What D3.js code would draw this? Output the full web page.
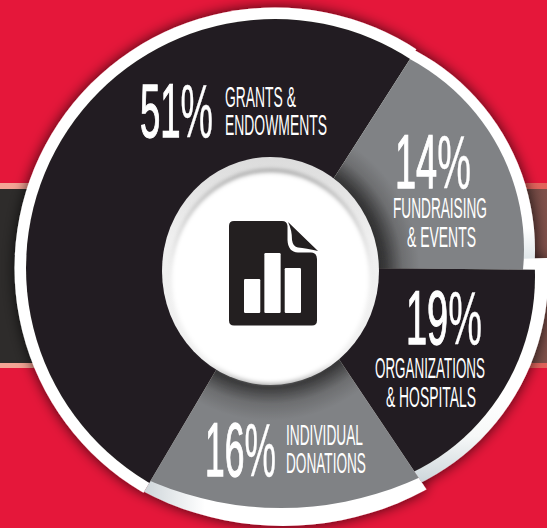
<!DOCTYPE html>
<html><head><meta charset="utf-8">
<script src="https://cdnjs.cloudflare.com/ajax/libs/d3/7.8.5/d3.min.js"></script>
<style>html,body{margin:0;padding:0;background:#e5173a;overflow:hidden}svg{display:block}
text{font-family:"Liberation Sans Narrow","Liberation Sans",sans-serif;fill:#fff}</style>
</head><body><svg id="c" width="547" height="528"></svg>
<script>
// DATA
const categories = ["Grants & Endowments","Fundraising & Events","Organizations & Hospitals","Individual Donations"];
const percentLabels = [51,14,19,16];
// the drawing's wedges are not proportional to its labels: sweep as measured on the picture (degrees)
const measuredSweeps = [182,58,55.5,64.5];
const iconBarValues = [34,60,45];

// STYLE / LAYOUT
const W=547,H=528, apex=[277,267], startDeg=-149.4;
const BLACK="#231f20", GREY="#808285";
const sliceStyle=[
 {fill:BLACK, ring:"url(#r0)", outer:[275,268,260.5], inner:[275,268,249], ringPad:0},
 {fill:"url(#hubShade)", ring:"url(#r1)", outer:[309,250,226], inner:[309,249,215], ringPad:1},
 {fill:BLACK, ring:"url(#r2)", outer:[318,277,230], inner:[318,277,217], ringPad:2.5},
 {fill:"url(#hubShade)", ring:"url(#r3)", outer:[283,226,300], inner:[281,179,329], ringPad:0}
];
const labelStyle=[
 {big:[140,137,73], small:[["GRANTS &",225,107,71],["ENDOWMENTS",225,135,102]]},
 {big:[395,188,76], small:[["FUNDRAISING",393,218,94],["& EVENTS",407,247,69]]},
 {big:[406,344,76], small:[["ORGANIZATIONS",375,378,110],["& HOSPITALS",386,407,90]]},
 {big:[205,476,71], small:[["INDIVIDUAL",286,445,77],["DONATIONS",286,473,80]]}
];

const svg=d3.select("#c");
const defs=svg.append("defs");
function linear(id,attrs,stops){const g=defs.append("linearGradient").attr("id",id).attr("gradientUnits","userSpaceOnUse");
 Object.entries(attrs).forEach(([k,v])=>g.attr(k,v));
 stops.forEach(s=>g.append("stop").attr("offset",s[0]).attr("stop-color",s[1]).attr("stop-opacity",s[2]===undefined?1:s[2]));}
linear("bandFill",{x1:0,y1:0,x2:547,y2:0},[[0,"#2e2c2b"],[.3,"#2e2c2b"],[.85,"#3a2e2c"],[1,"#80504a"]]);
linear("bandLine",{x1:0,y1:0,x2:547,y2:0},[[0,"#f4a596"],[.2,"#f4a08f"],[.8,"#e9786e"],[1,"#e2625a"]]);
linear("r0",{x1:0,y1:0,x2:547,y2:0},[[0,"#fff"],[1,"#fff"]]);
linear("r1",{x1:0,y1:150,x2:0,y2:270},[[0,"#fff"],[.65,"#fff"],[1,"#d3dce0"]]);
linear("r2",{x1:0,y1:400,x2:0,y2:480},[[0,"#fff"],[.45,"#f6f8f8"],[1,"#cfd8dc"]]);
linear("r3",{x1:145,y1:0,x2:205,y2:0},[[0,"#cfd6da"],[1,"#fff"]]);
const hs=defs.append("radialGradient").attr("id","hubShade").attr("gradientUnits","userSpaceOnUse")
 .attr("cx",270).attr("cy",271).attr("r",170);
[[.6,"#262626"],[.68,"#3a3a3b"],[.78,"#6d6e70"],[.88,GREY],[1,GREY]].forEach(s=>hs.append("stop").attr("offset",s[0]).attr("stop-color",s[1]));
const f=defs.append("filter").attr("id","shadow").attr("x","-20%").attr("y","-20%").attr("width","140%").attr("height","140%");
f.append("feDropShadow").attr("dx",0).attr("dy",0).attr("stdDeviation",7).attr("flood-color","#000").attr("flood-opacity",.75);
const b2=defs.append("filter").attr("id","soft").attr("x","-20%").attr("y","-20%").attr("width","140%").attr("height","140%");
b2.append("feGaussianBlur").attr("stdDeviation",2.2);
linear("hubRim",{x1:0,y1:157,x2:0,y2:385},[[0,"#dcdcdc"],[.35,"#efefef"],[.9,"#f0f0f0"],[1,"#b4b4b4"]]);
linear("hubLine",{x1:0,y1:165,x2:0,y2:330},[[0,"#9c9c9c"],[.45,"#cfcfcf"],[1,"#ffffff",0]]);

// background
svg.append("rect").attr("width",W).attr("height",H).attr("fill","#e5173a");
svg.append("rect").attr("y",183).attr("width",W).attr("height",185).attr("fill","url(#bandLine)");
svg.append("rect").attr("y",189).attr("width",W).attr("height",174).attr("fill","url(#bandFill)");

// wedges: all rims first, then all fills, so that a rim's overlap stays under the next wedge
const pie=d3.pie().value(d=>d).sort(null).startAngle(startDeg*Math.PI/180).endAngle((startDeg+360)*Math.PI/180);
const arcs=pie(measuredSweeps);
const wedge=d3.arc().innerRadius(0).outerRadius(420);
const rad=Math.PI/180;
const pieG=svg.append("g").attr("filter","url(#shadow)");
const rims=pieG.append("g"), fills=pieG.append("g");
arcs.forEach((a,i)=>{
 const st=sliceStyle[i];
 defs.append("clipPath").attr("id","w"+i).append("path").attr("transform",`translate(${apex})`).attr("d",wedge(a));
 defs.append("clipPath").attr("id","wr"+i).append("path").attr("transform",`translate(${apex})`)
   .attr("d",wedge({startAngle:a.startAngle-st.ringPad*rad,endAngle:a.endAngle}));
 rims.append("g").attr("clip-path",`url(#wr${i})`).append("circle")
   .attr("cx",st.outer[0]).attr("cy",st.outer[1]).attr("r",st.outer[2]).attr("fill",st.ring);
 fills.append("g").attr("clip-path",`url(#w${i})`).append("circle")
   .attr("cx",st.inner[0]).attr("cy",st.inner[1]).attr("r",st.inner[2]).attr("fill",st.fill);
});

// labels: each is fitted to its measured width by a horizontal scale
function fitted(g,str,x,y,size,width){
 const t=g.append("text").attr("font-size",size).text(str);
 const natural=t.node().getComputedTextLength();
 t.attr("transform",`translate(${x},${y}) scale(${width/natural},1)`);
 return t;
}
const big=svg.append("g"), small=svg.append("g");
percentLabels.forEach((p,i)=>{
 const l=labelStyle[i];
 const t=big.append("text").attr("font-size",76);
 t.append("tspan").attr("stroke","#fff").attr("stroke-width",1.3).text(p);
 t.append("tspan").attr("stroke","#fff").attr("stroke-width",.4).text("%");
 t.attr("transform",`translate(${l.big[0]},${l.big[1]}) scale(${l.big[2]/t.node().getComputedTextLength()},1)`);
 l.small.forEach(s=>fitted(small,s[0],s[1],s[2],30,s[3]));
});

// hub
const hub=svg.append("g");
hub.append("ellipse").attr("cx",270.5).attr("cy",271).attr("rx",108.5).attr("ry",114).attr("fill","url(#hubRim)");
hub.append("ellipse").attr("cx",270.5).attr("cy",275).attr("rx",98).attr("ry",104).attr("fill","none")
  .attr("stroke","url(#hubLine)").attr("stroke-width",4).attr("filter","url(#soft)");
hub.append("ellipse").attr("cx",270.5).attr("cy",278).attr("rx",99).attr("ry",105).attr("fill","#fff").attr("filter","url(#soft)");

// icon
const icon=svg.append("g");
icon.append("path").attr("fill",BLACK)
 .attr("d","M234,221H282Q287,221 287.5,226V240Q288,252 298,252.5H311Q317,253 317,259V320.5Q317,325.5 312,325.5H234Q229,325.5 229,320.5V226Q229,221 234,221Z");
icon.append("path").attr("fill",BLACK)
 .attr("d","M288,222L318,251Q306,248 298,247.5Q293,247 292,240Q292,230 288,222Z");
const bx=d3.scaleBand().domain(d3.range(iconBarValues.length)).range([244,301]).paddingInner(.2);
const by=d3.scaleLinear().domain([0,60]).range([313,253]);
icon.selectAll("rect").data(iconBarValues).join("rect").attr("x",(d,i)=>bx(i)).attr("width",bx.bandwidth())
 .attr("y",d=>by(d)).attr("height",d=>by(0)-by(d)).attr("rx",1.2).attr("fill","#fff");
</script></body></html>
